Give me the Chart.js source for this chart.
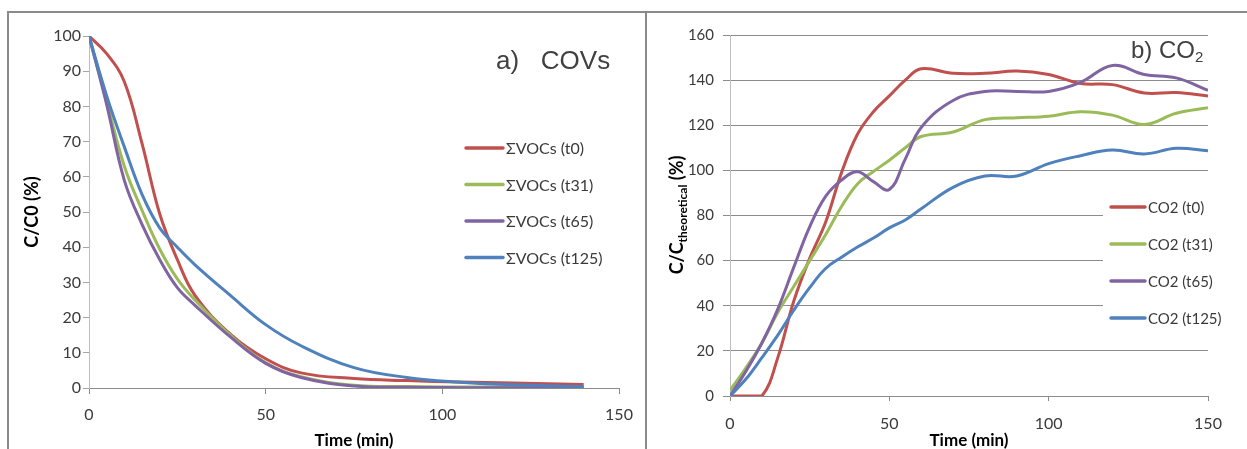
<!DOCTYPE html>
<html>
<head>
<meta charset="utf-8">
<script src="https://cdn.jsdelivr.net/npm/chart.js@4.4.0/dist/chart.umd.min.js"></script>
<style>
  body { margin: 0; background: #fff; width: 1247px; height: 449px; overflow: hidden; position: relative; }
  .frame { position: absolute; box-sizing: border-box; border: 2px solid #8a8a8a; border-bottom: none; }
  #frame-a { left: 7px; top: 11px; width: 640px; height: 460px; }
  #frame-b { left: 647px; top: 11px; width: 620px; height: 460px; border-left: none; }
  canvas { position: absolute; top: 0; }
  #voc-chart { left: 0; }
  #co2-chart { left: 647px; }
</style>
</head>
<body>
<div class="frame" id="frame-a"></div>
<div class="frame" id="frame-b"></div>
<canvas id="voc-chart" width="645" height="449"></canvas>
<canvas id="co2-chart" width="600" height="449"></canvas>
<script>
// Panel a) VOC decay, time in min
const vocTime = [0, 5, 10, 15, 20, 25, 30, 40, 50, 60, 75, 90, 105, 120, 140];
const vocT0   = [100, 95, 87, 69.5, 49.5, 36.5, 26.3, 15.3, 8.3, 4.3, 2.7, 2.1, 1.7, 1.4, 1.0];
const vocT31  = [100, 81.5, 63, 50.5, 39.5, 31, 25, 15, 7.2, 3.2, 0.8, 0.4, 0.3, 0.3, 0.3];
const vocT65  = [100, 80.5, 59, 46.5, 36.5, 28.5, 23.5, 14.5, 7, 3, 0.6, 0.2, 0.1, 0.1, 0.1];
const vocT125 = [100, 83, 68.5, 55, 45.5, 40, 35, 26.3, 18, 12, 5.8, 3.0, 1.65, 0.9, 0.4];
const vocLabels = ['\u03A3VOCs (t0)', '\u03A3VOCs (t31)', '\u03A3VOCs (t65)', '\u03A3VOCs (t125)'];

// Panel b) CO2 production
const co2Time = [0, 5, 10, 15, 20, 25, 30, 35, 40, 45, 50, 55, 60, 70, 80, 90, 100, 110, 120, 130, 140, 150];
const co2T0   = [0, 0, 0, 17, 42, 61, 77, 99, 116, 126, 133, 140, 145, 143, 143, 144, 142.5, 138.5, 138, 134.3, 134.5, 133];
const co2T31  = [2.5, 12.5, 23.5, 37, 48.5, 60, 71.5, 84, 94, 99.5, 104.5, 110, 115, 117, 122.5, 123.3, 124, 126, 124.5, 120.3, 125.3, 127.8];
const co2T65  = [0, 11, 23.5, 38.5, 57, 75, 88.5, 95.7, 99.4, 95, 91.5, 105, 119, 131, 135, 135, 135, 139, 146.5, 142.5, 141, 135.5];
const co2T125 = [0, 7.5, 17, 27, 38, 48, 56.5, 61.5, 66, 70, 74.5, 78, 83, 92.5, 97.5, 97.5, 103, 106.5, 109, 107.3, 109.8, 108.7];
const co2Labels = ['CO2 (t0)', 'CO2 (t31)', 'CO2 (t65)', 'CO2 (t125)'];

// Excel 2007 palette
const seriesColors = ['#C0504D', '#9BBB59', '#8064A2', '#4F81BD'];

const FONT = 'Lato, "Open Sans", sans-serif';
const TICK_COLOR = '#3a3a3a';

function toPoints(xs, ys) {
    return xs.map((x, i) => ({ x: x, y: ys[i] }));
}

function makeDatasets(xs, seriesList, labels) {
    return seriesList.map((ys, i) => ({
        label: labels[i],
        data: toPoints(xs, ys),
        borderColor: seriesColors[i],
        backgroundColor: seriesColors[i],
        borderWidth: 3,
        pointRadius: 0,
        tension: 0.4,
        fill: false,
        order: seriesList.length - i   // later series drawn on top, like Excel
    }));
}

// Legend drawn by hand so it can sit inside the plot like the original
const sideLegend = {
    id: 'sideLegend',
    beforeDatasetsDraw(chart, args, opts) {
        if (!opts.box) return;
        const ctx = chart.ctx;
        ctx.save();
        ctx.fillStyle = '#fff';
        ctx.fillRect(opts.box.x, opts.box.y, opts.box.w, opts.box.h);
        ctx.restore();
    },
    afterDatasetsDraw(chart, args, opts) {
        const ctx = chart.ctx;
        ctx.save();
        ctx.font = opts.font;
        ctx.textBaseline = 'middle';
        ctx.textAlign = 'left';
        chart.data.datasets.forEach((ds, i) => {
            const y = opts.y + i * opts.rowHeight;
            ctx.strokeStyle = ds.borderColor;
            ctx.lineWidth = 3.5;
            ctx.lineCap = 'round';
            ctx.beginPath();
            ctx.moveTo(opts.x, y);
            ctx.lineTo(opts.x + opts.lineLength, y);
            ctx.stroke();
            ctx.fillStyle = TICK_COLOR;
            ctx.fillText(ds.label, opts.x + opts.lineLength + 3, y + 1);
        });
        ctx.restore();
    }
};

// Free text pieces (panel labels, title with subscript)
const textPieces = {
    id: 'textPieces',
    afterDraw(chart, args, opts) {
        const ctx = chart.ctx;
        (opts.groups || []).forEach(g => {
            ctx.save();
            ctx.translate(g.x, g.y);
            if (g.rotate) ctx.rotate(g.rotate);
            ctx.fillStyle = g.color;
            ctx.textAlign = 'left';
            ctx.textBaseline = 'alphabetic';
            let total = 0;
            g.parts.forEach(p => { ctx.font = p.font; total += ctx.measureText(p.text).width; });
            let x = g.align === 'center' ? -total / 2 : 0;
            g.parts.forEach(p => {
                ctx.font = p.font;
                ctx.fillText(p.text, x, p.dy || 0);
                x += ctx.measureText(p.text).width;
            });
            ctx.restore();
        });
    }
};

// Panel a)
new Chart(document.getElementById('voc-chart'), {
    type: 'line',
    data: { datasets: makeDatasets(vocTime, [vocT0, vocT31, vocT65, vocT125], vocLabels) },
    plugins: [sideLegend, textPieces],
    options: {
        responsive: false,
        animation: false,
        devicePixelRatio: 1,
        layout: { padding: { top: 36, right: 26, bottom: 0, left: 17 } },
        scales: {
            x: {
                type: 'linear',
                min: 0, max: 150,
                afterFit(scale) { scale.height = 61; },
                ticks: { stepSize: 50, padding: 11, color: TICK_COLOR, font: { family: FONT, size: 16 } },
                grid: { drawOnChartArea: false, tickLength: 6, color: '#8c8c8c' },
                border: { color: '#8c8c8c' },
                title: {
                    display: true, text: 'Time (min)', color: '#000',
                    padding: 0, font: { family: FONT, size: 17, weight: 'bold', lineHeight: 1 }
                }
            },
            y: {
                min: 0, max: 100,
                afterFit(scale) { scale.width = 72; },
                ticks: { stepSize: 10, padding: 2, color: TICK_COLOR, font: { family: FONT, size: 16 } },
                grid: { drawOnChartArea: false, tickLength: 6, color: '#a6a6a6' },
                border: { color: '#bdbdbd' },
                title: {
                    display: true, text: 'C/C0 (%)', color: '#000',
                    font: { family: FONT, size: 18, weight: 'bold' }
                }
            }
        },
        plugins: {
            legend: { display: false },
            tooltip: { enabled: false },
            sideLegend: { x: 466, y: 148, rowHeight: 36.5, lineLength: 37, font: '16px ' + FONT },
            textPieces: {
                groups: [
                    { x: 496, y: 69, color: '#404040',
                      parts: [{ text: 'a)   COVs', font: '26px "Liberation Sans", Arial, sans-serif' }] }
                ]
            }
        }
    }
});

// Panel b)
new Chart(document.getElementById('co2-chart'), {
    type: 'line',
    data: { datasets: makeDatasets(co2Time, [co2T0, co2T31, co2T65, co2T125], co2Labels) },
    plugins: [sideLegend, textPieces],
    options: {
        responsive: false,
        animation: false,
        devicePixelRatio: 1,
        layout: { padding: { top: 35, right: 39, bottom: 0, left: 15 } },
        scales: {
            x: {
                type: 'linear',
                min: 0, max: 150,
                afterFit(scale) { scale.height = 53; },
                ticks: { stepSize: 50, padding: 13, color: TICK_COLOR, font: { family: FONT, size: 16 } },
                grid: { drawOnChartArea: false, tickLength: 5, color: '#8c8c8c' },
                border: { color: '#8c8c8c' },
                title: {
                    display: true, text: 'Time (min)', color: '#000',
                    padding: 0, font: { family: FONT, size: 17, weight: 'bold', lineHeight: 1 }
                }
            },
            y: {
                min: 0, max: 160,
                afterFit(scale) { scale.width = 68; },
                ticks: { stepSize: 20, padding: 9, color: TICK_COLOR, font: { family: FONT, size: 15 } },
                grid: { tickLength: 7, color: '#8c8c8c' },
                border: { color: '#bdbdbd' }
            }
        },
        plugins: {
            legend: { display: false },
            tooltip: { enabled: false },
            sideLegend: {
                x: 464, y: 207, rowHeight: 37, lineLength: 34, font: '15px ' + FONT,
                box: { x: 456, y: 186, w: 144, h: 150 }
            },
            textPieces: {
                groups: [
                    { x: 484, y: 58, color: '#404040',
                      parts: [
                          { text: 'b) CO', font: '24px "Liberation Sans", Arial, sans-serif' },
                          { text: '2', font: '15px "Liberation Sans", Arial, sans-serif', dy: 4 }
                      ] },
                    { x: 30, y: 215, rotate: -Math.PI / 2, align: 'center', color: '#000',
                      parts: [
                          { text: 'C/C', font: 'bold 18px ' + FONT, dy: 6 },
                          { text: 'theoretical', font: 'bold 12px ' + FONT, dy: 10 },
                          { text: ' (%)', font: 'bold 18px ' + FONT, dy: 6 }
                      ] }
                ]
            }
        }
    }
});
</script>
</body>
</html>
